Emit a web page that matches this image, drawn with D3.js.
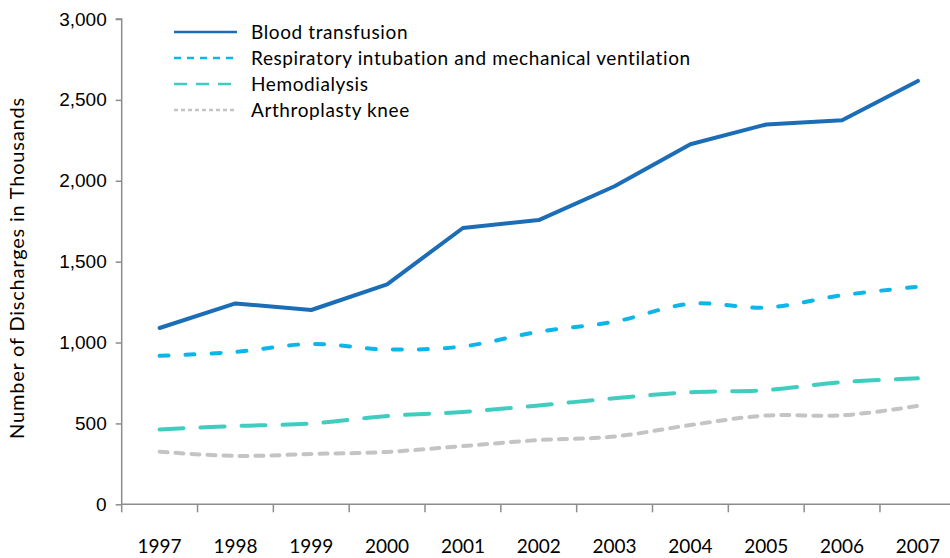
<!DOCTYPE html>
<html>
<head>
<meta charset="utf-8">
<script src="https://cdn.jsdelivr.net/npm/d3@7"></script>
<style>
  body { margin: 0; background: #fff; }
  svg { display: block; font-family: Lato, "Open Sans", sans-serif; }
</style>
</head>
<body>
<div id="chart"></div>
<script>
const years = ["1997","1998","1999","2000","2001","2002","2003","2004","2005","2006","2007"]
const bloodTransfusion = [1090, 1242, 1201, 1360, 1708, 1757, 1966, 2226, 2348, 2374, 2617]
const respiratory = [918, 942, 991, 957, 976, 1067, 1129, 1240, 1216, 1292, 1345]
const hemodialysis = [463, 484, 499, 546, 571, 611, 656, 693, 706, 755, 779]
const arthroplasty = [325, 299, 311, 324, 360, 397, 419, 490, 549, 550, 608]
const yTicks = [0, 500, 1000, 1500, 2000, 2500, 3000]

const width = 950
const height = 558

const series = [
  {name: "Blood transfusion", values: bloodTransfusion, color: "#1c6db7", dash: null, legendDash: null, smooth: false},
  {name: "Respiratory intubation and mechanical ventilation", values: respiratory, color: "#0cb6ea", dash: "9,17", legendDash: "7,6", smooth: true},
  {name: "Hemodialysis", values: hemodialysis, color: "#40cdbf", dash: "24,17", legendDash: "13,9", smooth: true},
  {name: "Arthroplasty knee", values: arthroplasty, color: "#c4c4c4", dash: "8,8", legendDash: "4,3", smooth: true}
]

const x = d3.scaleBand().domain(years).range([121.7, 955.8])
const y = d3.scaleLinear().domain([0, 3000]).range([504.3, 19])

const svg = d3.select("#chart")
  .append("svg")
  .attr("width", width)
  .attr("height", height)

// axes
const axisColor = "#8c8c8c"

const yAxis = svg.append("g")
  .attr("transform", "translate(121.7,0)")
  .call(d3.axisLeft(y).tickValues(yTicks).tickSize(6).tickPadding(9).tickFormat(d3.format(",")))
yAxis.select(".domain").attr("stroke", axisColor).attr("stroke-width", 1.5)
  .attr("d", `M-6,${y(3000)}H0V${y(0)}`)
yAxis.selectAll(".tick line").attr("stroke", axisColor).attr("stroke-width", 1.5)
yAxis.selectAll(".tick text").attr("fill", "#000").style("font-size", "19px")

const xTickPos = years.map(d => x(d)).concat([x.range()[1]])
const xAxis = svg.append("g")
  .attr("transform", `translate(0,${y(0)})`)
xAxis.append("line")
  .attr("x1", x.range()[0]).attr("x2", x.range()[1])
  .attr("stroke", axisColor).attr("stroke-width", 1.5)
xAxis.selectAll(".xtick")
  .data(xTickPos)
  .join("line")
    .attr("class", "xtick")
    .attr("x1", d => d).attr("x2", d => d)
    .attr("y1", 0).attr("y2", 8)
    .attr("stroke", axisColor).attr("stroke-width", 1.5)
xAxis.selectAll(".xlabel")
  .data(years)
  .join("text")
    .attr("class", "xlabel")
    .attr("x", d => x(d) + x.bandwidth() / 2)
    .attr("y", 49)
    .attr("text-anchor", "middle")
    .style("font-size", "19px")
    .text(d => d)

svg.append("text")
  .attr("transform", `translate(24,268) rotate(-90)`)
  .attr("text-anchor", "middle")
  .style("font-size", "20px")
  .style("letter-spacing", "0.8px")
  .text("Number of Discharges in Thousands")

// lines
series.forEach(s => {
  const line = d3.line()
    .x((d, i) => x(years[i]) + x.bandwidth() / 2)
    .y(d => y(d))
    .curve(s.smooth ? d3.curveCatmullRom.alpha(0.5) : d3.curveLinear)

  svg.append("path")
    .datum(s.values)
    .attr("fill", "none")
    .attr("stroke", s.color)
    .attr("stroke-width", 4)
    .attr("stroke-linecap", "round")
    .attr("stroke-linejoin", "round")
    .attr("stroke-dasharray", s.dash)
    .attr("d", line)
})

// legend
const legend = svg.append("g")
const rows = legend.selectAll("g")
  .data(series)
  .join("g")
    .attr("transform", (d, i) => `translate(174,${32 + i * 26})`)

rows.append("line")
  .attr("x1", 0).attr("x2", 63)
  .attr("stroke", d => d.color)
  .attr("stroke-width", 2.5)
  .attr("stroke-dasharray", d => d.legendDash)

rows.append("text")
  .attr("x", 77)
  .attr("dy", "0.35em")
  .style("font-size", "19px")
  .style("letter-spacing", "0.6px")
  .text(d => d.name)
</script>
</body>
</html>
